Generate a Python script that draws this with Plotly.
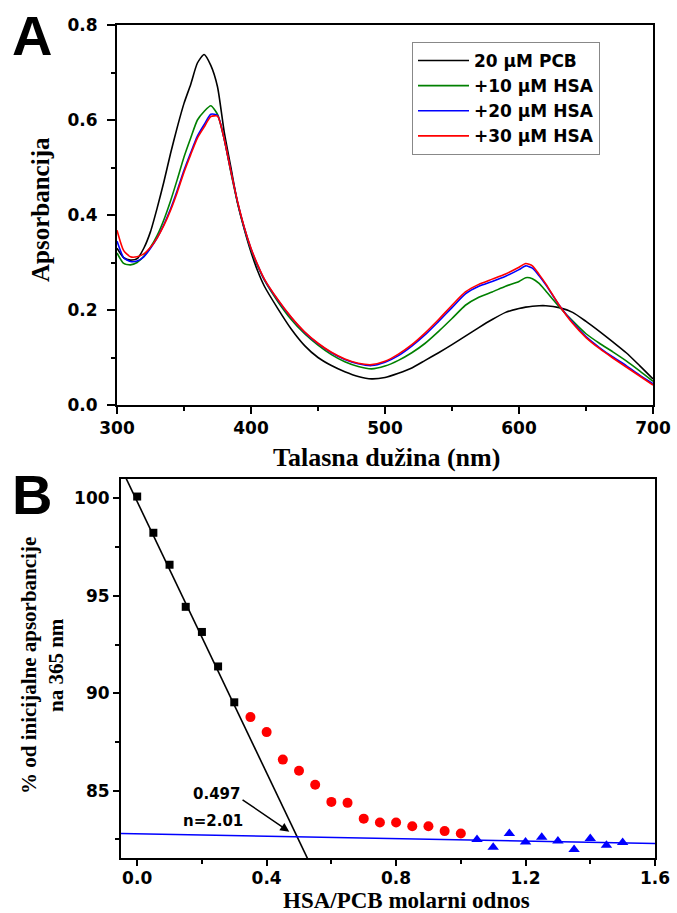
import plotly.graph_objects as go

# ---------------- Panel A data ----------------
wavelength = [300, 305, 310, 315, 320, 325, 330, 335, 340, 345, 350, 355, 360, 365, 370, 375,
              380, 385, 390, 395, 400, 405, 410, 420, 430, 440, 450, 460, 470, 480, 490, 500,
              510, 520, 530, 540, 550, 560, 570, 580, 590, 600, 605, 610, 615, 620, 630, 640,
              650, 660, 670, 680, 690, 700]

abs_pcb = [0.33, 0.31, 0.305, 0.308, 0.33, 0.365, 0.415, 0.47, 0.53, 0.585, 0.635, 0.675, 0.72, 0.738, 0.715, 0.67,
           0.575, 0.5, 0.425, 0.37, 0.322, 0.282, 0.25, 0.203, 0.16, 0.125, 0.1, 0.083, 0.07, 0.06, 0.055, 0.058,
           0.067, 0.078, 0.094, 0.11, 0.127, 0.145, 0.163, 0.18, 0.195, 0.203, 0.206, 0.208, 0.209, 0.209, 0.205, 0.195,
           0.176, 0.155, 0.133, 0.11, 0.083, 0.055]

abs_hsa10 = [0.32, 0.298, 0.295, 0.3, 0.313, 0.332, 0.357, 0.39, 0.43, 0.475, 0.522, 0.562, 0.6, 0.618, 0.63, 0.612,
             0.56, 0.49, 0.425, 0.372, 0.327, 0.292, 0.263, 0.218, 0.18, 0.15, 0.126, 0.106, 0.091, 0.081, 0.076, 0.082,
             0.094, 0.11, 0.13, 0.155, 0.182, 0.21, 0.227, 0.238, 0.25, 0.26, 0.268, 0.266, 0.256, 0.24, 0.207, 0.177,
             0.15, 0.13, 0.112, 0.093, 0.072, 0.05]

abs_hsa20 = [0.345, 0.31, 0.302, 0.303, 0.312, 0.33, 0.352, 0.38, 0.413, 0.452, 0.494, 0.531, 0.566, 0.59, 0.612, 0.61,
             0.56, 0.492, 0.427, 0.373, 0.329, 0.294, 0.264, 0.221, 0.184, 0.153, 0.129, 0.11, 0.096, 0.087, 0.083, 0.09,
             0.104, 0.124, 0.148, 0.176, 0.205, 0.234, 0.25, 0.26, 0.271, 0.285, 0.293, 0.288, 0.272, 0.253, 0.21, 0.174,
             0.144, 0.121, 0.101, 0.083, 0.063, 0.045]

abs_hsa30 = [0.368, 0.325, 0.312, 0.312, 0.318, 0.332, 0.352, 0.378, 0.41, 0.448, 0.49, 0.527, 0.562, 0.585, 0.607, 0.608,
             0.56, 0.492, 0.428, 0.374, 0.33, 0.295, 0.265, 0.222, 0.185, 0.154, 0.13, 0.111, 0.097, 0.088, 0.085, 0.092,
             0.107, 0.127, 0.152, 0.18, 0.21, 0.238, 0.254, 0.265, 0.276, 0.29, 0.298, 0.293, 0.275, 0.255, 0.21, 0.172,
             0.142, 0.119, 0.099, 0.08, 0.061, 0.042]

series_names = ["20 \u03bcM PCB", "+10 \u03bcM HSA", "+20 \u03bcM HSA", "+30 \u03bcM HSA"]
series_colors = ["#000000", "#008000", "#0000FF", "#FF0000"]

# ---------------- Panel B data ----------------
ratio_sq = [0.0, 0.05, 0.1, 0.15, 0.2, 0.25, 0.3]
pct_sq = [100.1, 98.24, 96.6, 94.44, 93.15, 91.38, 89.54]

ratio_circ = [0.35, 0.4, 0.45, 0.5, 0.55, 0.6, 0.65, 0.7, 0.75, 0.8, 0.85, 0.9, 0.95, 1.0]
pct_circ = [88.78, 88.01, 86.6, 86.03, 85.31, 84.43, 84.38, 83.57, 83.37, 83.37, 83.18, 83.18, 82.93, 82.81]

ratio_tri = [1.05, 1.1, 1.15, 1.2, 1.25, 1.3, 1.35, 1.4, 1.45, 1.5]
pct_tri = [82.5, 82.1, 82.81, 82.37, 82.62, 82.42, 81.99, 82.55, 82.2, 82.35]

# linear fits: (intercept, slope)
fit_black = (99.84, -34.8)
fit_blue = (82.79, -0.31)
fit_x_range = [-0.05, 1.6]

FIG_W, FIG_H = 677, 913


def px_x(p):
    return p / FIG_W


def px_y(p):
    return 1 - p / FIG_H


fig = go.Figure()

for name, col, ys in zip(series_names, series_colors, [abs_pcb, abs_hsa10, abs_hsa20, abs_hsa30]):
    fig.add_trace(go.Scatter(x=wavelength, y=ys, mode="lines", name=name,
                             line=dict(color=col, width=1.6, shape="spline", smoothing=0.6),
                             xaxis="x", yaxis="y"))

fig.add_trace(go.Scatter(x=fit_x_range, y=[fit_black[0] + fit_black[1] * v for v in fit_x_range],
                         mode="lines", line=dict(color="black", width=1.6), showlegend=False,
                         xaxis="x2", yaxis="y2"))
fig.add_trace(go.Scatter(x=fit_x_range, y=[fit_blue[0] + fit_blue[1] * v for v in fit_x_range],
                         mode="lines", line=dict(color="#0000FF", width=1.6), showlegend=False,
                         xaxis="x2", yaxis="y2"))
fig.add_trace(go.Scatter(x=ratio_sq, y=pct_sq, mode="markers", showlegend=False,
                         marker=dict(symbol="square", size=8, color="black"), xaxis="x2", yaxis="y2"))
fig.add_trace(go.Scatter(x=ratio_circ, y=pct_circ, mode="markers", showlegend=False,
                         marker=dict(symbol="circle", size=10, color="#FF0000"), xaxis="x2", yaxis="y2"))
fig.add_trace(go.Scatter(x=ratio_tri, y=pct_tri, mode="markers", showlegend=False,
                         marker=dict(symbol="triangle-up", size=10, color="#0000FF"), xaxis="x2", yaxis="y2"))

tickfont = dict(family="DejaVu Sans", size=17, color="black", weight="bold")
axis_common = dict(showline=True, linewidth=2, linecolor="black", mirror=True, ticks="outside",
                   tickwidth=2, tickcolor="black", showgrid=False, zeroline=False, tickfont=tickfont,
                   automargin=False)

fig.update_layout(
    width=FIG_W, height=FIG_H,
    margin=dict(l=0, r=0, t=0, b=0, pad=0, autoexpand=False),
    paper_bgcolor="white", plot_bgcolor="white",
    showlegend=True,
    legend=dict(x=px_x(412), y=px_y(42), xanchor="left", yanchor="top",
                bordercolor="#888888", borderwidth=1, bgcolor="white",
                font=dict(family="DejaVu Sans", size=17, color="black", weight="bold"),
                tracegroupgap=0, itemwidth=51),
    xaxis=dict(domain=[px_x(117), px_x(653)], range=[300, 700], dtick=100, ticklen=7,
               minor=dict(dtick=50, ticks="outside", ticklen=4, tickwidth=2, tickcolor="black"),
               anchor="y", **axis_common),
    yaxis=dict(domain=[px_y(405), px_y(25)], range=[0, 0.8], dtick=0.2, tickformat=".1f", ticklen=8,
               ticklabelstandoff=6,
               minor=dict(dtick=0.1, ticks="outside", ticklen=4, tickwidth=2, tickcolor="black"),
               anchor="x", **axis_common),
    xaxis2=dict(domain=[px_x(121), px_x(655)], range=[-0.05, 1.6], dtick=0.4, tick0=0, tickformat=".1f",
                ticklen=6, ticklabelstandoff=-2,
                minor=dict(dtick=0.2, tick0=0, ticks="outside", ticklen=4, tickwidth=2, tickcolor="black"),
                anchor="y2", **axis_common),
    yaxis2=dict(domain=[px_y(858), px_y(479)], range=[81.55, 101], dtick=5, tick0=0, ticklen=6,
                minor=dict(dtick=2.5, tick0=0, ticks="outside", ticklen=4, tickwidth=2, tickcolor="black"),
                anchor="x2", **axis_common),
)

center = dict(xanchor="center", yanchor="middle", showarrow=False, xref="paper", yref="paper")
title_font = dict(family="Liberation Serif", size=26, color="black", weight="bold")
annos = [
    dict(text="A", x=px_x(32), y=px_y(36),
         font=dict(family="Liberation Sans", size=56, color="black", weight="bold"), **center),
    dict(text="B", x=px_x(32), y=px_y(494),
         font=dict(family="Liberation Sans", size=56, color="black", weight="bold"), **center),
    dict(text="Talasna du\u017eina (nm)", x=px_x(386), y=px_y(457), font=title_font, **center),
    dict(text="Apsorbancija", x=px_x(40), y=px_y(210), textangle=-90,
         font=dict(family="Liberation Serif", size=25, color="black", weight="bold"), **center),
    dict(text="HSA/PCB molarni odnos", x=px_x(406), y=px_y(900),
         font=dict(family="Liberation Serif", size=23, color="black", weight="bold"),
         xanchor="center", yanchor="middle", showarrow=False, xref="paper", yref="paper"),
    dict(text="% od inicijalne apsorbancije<br>na 365 nm", x=px_x(42), y=px_y(666), textangle=-90,
         font=dict(family="Liberation Serif", size=21, color="black", weight="bold"), **center),
    dict(text="0.497", x=0.244, y=84.85, xref="x2", yref="y2", showarrow=False,
         xanchor="center", yanchor="middle",
         font=dict(family="DejaVu Sans", size=15, color="black", weight="bold")),
    dict(text="n=2.01", x=0.235, y=83.47, xref="x2", yref="y2", showarrow=False,
         xanchor="center", yanchor="middle",
         font=dict(family="DejaVu Sans", size=15, color="black", weight="bold")),
    dict(text="", x=0.47, y=82.9, xref="x2", yref="y2", ax=0.321, ay=84.59, axref="x2", ayref="y2",
         showarrow=True, arrowhead=2, arrowsize=1.2, arrowwidth=1.5, arrowcolor="black"),
]
fig.update_layout(annotations=annos)

fig.write_html("out.html")
